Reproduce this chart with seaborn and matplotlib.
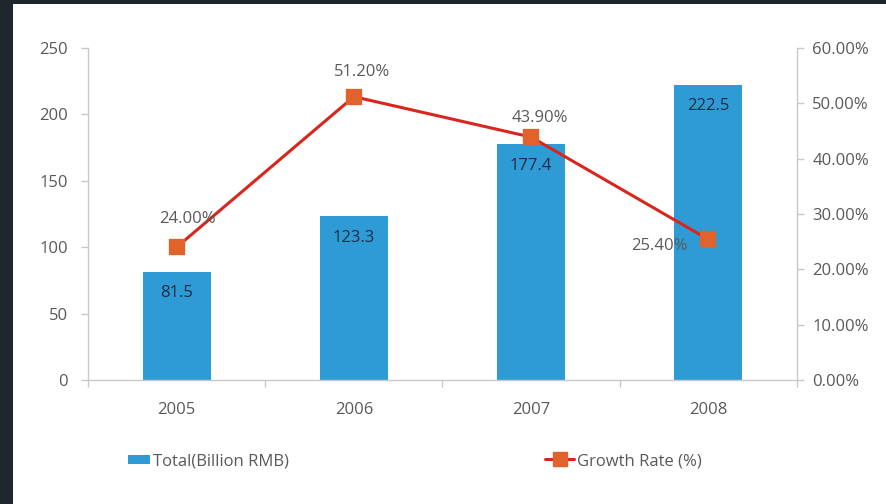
import matplotlib
matplotlib.use("Agg")
import matplotlib.pyplot as plt
import seaborn as sns
import pandas as pd
import numpy as np
from matplotlib.patches import Patch, Rectangle
from matplotlib.lines import Line2D
from matplotlib.ticker import FuncFormatter

years = ["2005", "2006", "2007", "2008"]
total = [81.5, 123.3, 177.4, 222.5]
growth = [24.00, 51.20, 43.90, 25.40]
left_ticks = [0, 50, 100, 150, 200, 250]
right_ticks = [0, 10, 20, 30, 40, 50, 60]

df = pd.DataFrame({"year": years, "total": total, "growth": growth})

sns.set_theme(style="white")
plt.rcParams["font.family"] = ["Open Sans", "DejaVu Sans"]

BAR = "#2f9bd5"
LINE = "#d8261e"
MARK = "#e2622c"
TXT = "#595959"
SPINE = "#c9c9c9"
FS = 12

fig = plt.figure(figsize=(8.87, 5.04), dpi=100)
ax = fig.add_axes([88/887, 1-380/504, (797-88)/887, (380-48)/504])

sns.barplot(data=df, x="year", y="total", color=BAR, width=0.385,
            saturation=1, ax=ax, edgecolor="none")
ax.set_ylim(0, 250)
ax.set_xlim(-0.5, 3.5)
ax.set_yticks(left_ticks)
ax.set_xlabel("")
ax.set_ylabel("")

for i, v in enumerate(total):
    ax.annotate(f"{v}", (i, v), xytext=(0, -15.5), textcoords="offset points",
                ha="center", va="center", fontsize=FS, color="#1f2b45")

ax2 = ax.twinx()
sns.pointplot(data=df, x="year", y="growth", color=LINE, markers="s",
              linewidth=2.2, markersize=9.5, ax=ax2)
for ln in ax2.lines:
    ln.set_markerfacecolor(MARK)
    ln.set_markeredgecolor(MARK)
ax2.set_ylim(0, 60)
ax2.set_yticks(right_ticks)
ax2.yaxis.set_major_formatter(FuncFormatter(lambda v, p: f"{v:.2f}%"))
ax2.set_ylabel("")
ax2.set_xlim(-0.5, 3.5)

offsets = [(8, 20), (6, 18), (6, 14), (-35, -5)]
for i, (g, off) in enumerate(zip(growth, offsets)):
    ax2.annotate(f"{g:.2f}%", (i, g), xytext=off, textcoords="offset points",
                 ha="center", va="center", fontsize=FS, color=TXT)

for a in (ax, ax2):
    for s in a.spines.values():
        s.set_color(SPINE)
        s.set_linewidth(1)
    a.spines["top"].set_visible(False)
    a.tick_params(axis="y", colors=TXT, labelsize=FS, length=5, width=1,
                  direction="out", color=SPINE)
ax2.spines["left"].set_visible(False)
ax2.spines["bottom"].set_visible(False)
ax.spines["right"].set_visible(False)
ax.tick_params(axis="y", labelcolor=TXT, pad=9.5)
ax2.tick_params(axis="y", labelcolor=TXT, pad=6)

ax.set_xticks(np.arange(len(years)))
ax.set_xticklabels(years)
ax.set_xticks(np.arange(len(years) + 1) - 0.5, minor=True)
ax.tick_params(axis="x", which="major", length=0, pad=16, labelsize=FS,
               labelcolor=TXT)
ax.tick_params(axis="x", which="minor", length=5, width=1, color=SPINE,
               direction="out", bottom=True)

h1 = Patch(facecolor=BAR, edgecolor="none")
h2 = Line2D([0], [0], color=LINE, lw=2.2, marker="s", markersize=9.5,
            markerfacecolor=MARK, markeredgecolor=MARK)
kw = dict(frameon=False, fontsize=FS, borderpad=0, borderaxespad=0,
          handletextpad=0.15, labelcolor=TXT)
fig.legend([h1], ["Total(Billion RMB)"], loc="center left",
           bbox_to_anchor=(128/887, 1-461/504), handlelength=1.35,
           handleheight=0.45, **kw)
fig.legend([h2], ["Growth Rate (%)"], loc="center left",
           bbox_to_anchor=(545/887, 1-461/504), handlelength=1.75, **kw)

fig.patches.append(Rectangle((0, 1-4/504), 1, 4/504, transform=fig.transFigure,
                             facecolor="#1f262d", edgecolor="none", zorder=10))
fig.patches.append(Rectangle((0, 0), 13/887, 1, transform=fig.transFigure,
                             facecolor="#1f262d", edgecolor="none", zorder=10))

fig.savefig("out.png", dpi=100)
